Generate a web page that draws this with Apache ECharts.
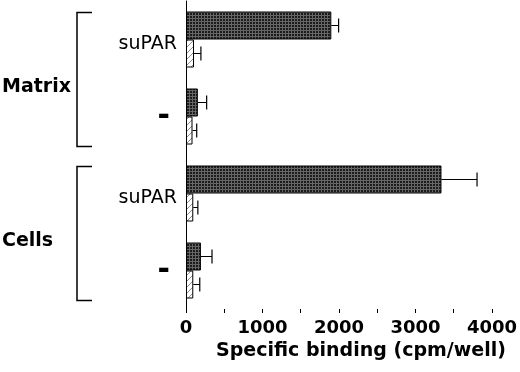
<!DOCTYPE html>
<html>
<head>
<meta charset="utf-8">
<script src="https://cdn.jsdelivr.net/npm/echarts@6/dist/echarts.min.js"></script>
<style>
    html, body { margin: 0; padding: 0; background: #fff; }
    #chart { width: 520px; height: 372px; }
</style>
</head>
<body>
<div id="chart"></div>
<script>
// categories, top to bottom
const categories = ['suPAR', '-', 'suPAR', '-']
const groups = [
    { name: 'Matrix', from: 0, to: 1 },
    { name: 'Cells', from: 2, to: 3 }
]
// dark (stippled) bars and hatched bars, cpm/well
const darkValues = [1900, 155, 3340, 195]
const darkErrors = [95, 115, 465, 145]
const hatchValues = [105, 85, 95, 95]
const hatchErrors = [90, 55, 60, 85]
const xTicks = [0, 1000, 2000, 3000, 4000]

const FONT = 'DejaVu Sans'
const BAR_W = 28

function makePattern (kind) {
    const c = document.createElement('canvas')
    if (kind === 'dark') {
        c.width = 3; c.height = 3
        const g = c.getContext('2d')
        g.fillStyle = '#1c1c1c'
        g.fillRect(0, 0, 3, 3)
        g.fillStyle = '#666'
        g.fillRect(0, 0, 3, 1)
        g.fillRect(0, 0, 1, 3)
    } else {
        c.width = 6; c.height = 6
        const g = c.getContext('2d')
        g.fillStyle = '#fff'
        g.fillRect(0, 0, 6, 6)
        g.strokeStyle = '#8a8a8a'
        g.lineWidth = 1
        g.beginPath()
        g.moveTo(-1, 7); g.lineTo(7, -1)
        g.moveTo(-4, 4); g.lineTo(4, -4)
        g.moveTo(2, 10); g.lineTo(10, 2)
        g.stroke()
    }
    return { image: c, repeat: 'repeat' }
}

// error bar: line from bar end + cap, drawn at the bar's own row
function errorRenderer (side) {
    return function (params, api) {
        const v = api.value(0)
        const cat = api.value(1)
        const e = api.value(2)
        const p0 = api.coord([v, cat])
        const p1 = api.coord([v + e, cat])
        const y = p0[1] + side * BAR_W / 2
        return {
            type: 'group',
            children: [
                { type: 'line', shape: { x1: p0[0], y1: y, x2: p1[0], y2: y },
                  style: { stroke: '#000', lineWidth: 1 } },
                { type: 'line', shape: { x1: p1[0], y1: y - 7, x2: p1[0], y2: y + 7 },
                  style: { stroke: '#000', lineWidth: 1.2 } }
            ]
        }
    }
}

const chart = echarts.init(document.getElementById('chart'))
chart.setOption({
    animation: false,
    backgroundColor: '#fff',
    textStyle: { fontFamily: FONT, color: '#000' },
    grid: { left: 186, right: 24, top: 1, bottom: 63 },
    xAxis: {
        type: 'value',
        min: 0,
        max: 4000,
        interval: 1000,
        name: 'Specific binding (cpm/well)',
        nameLocation: 'middle',
        nameGap: 23,
        nameTextStyle: {
            fontFamily: FONT, fontWeight: 'bold', fontSize: 19, color: '#000',
            verticalAlign: 'top', padding: [0, 0, 0, 44]
        },
        axisLine: { lineStyle: { color: '#000', width: 1 } },
        axisTick: { show: true, length: 4, lineStyle: { color: '#000' } },
        minorTick: { show: true, splitNumber: 2, length: 4, lineStyle: { color: '#000' } },
        splitLine: { show: false },
        axisLabel: {
            margin: 10,
            fontFamily: FONT, fontWeight: 'bold', fontSize: 18, color: '#000',
            formatter: v => xTicks.indexOf(v) >= 0 ? String(v) : ''
        }
    },
    yAxis: {
        type: 'category',
        inverse: true,
        data: categories,
        axisLine: { lineStyle: { color: '#000', width: 1 } },
        axisTick: { show: false },
        axisLabel: {
            margin: 9,
            formatter: v => v === '-' ? '{d|-}' : '{s|' + v + '}',
            rich: {
                s: { fontFamily: FONT, fontSize: 19, color: '#000', padding: [10, 0, 0, 0] },
                d: { fontFamily: FONT, fontWeight: 'bold', fontSize: 30, color: '#000', padding: [2, 7, 0, 0] }
            }
        }
    },
    series: [
        {
            name: 'dark',
            type: 'bar',
            barWidth: BAR_W,
            barGap: '0%',
            data: darkValues,
            itemStyle: { color: makePattern('dark'), borderColor: '#000', borderWidth: 1 }
        },
        {
            name: 'hatched',
            type: 'bar',
            barWidth: BAR_W,
            barGap: '0%',
            data: hatchValues,
            itemStyle: { color: makePattern('hatch'), borderColor: '#000', borderWidth: 1 }
        },
        {
            type: 'custom',
            renderItem: errorRenderer(-1),
            encode: { x: 0, y: 1 },
            data: darkValues.map((v, i) => [v, i, darkErrors[i]]),
            z: 3
        },
        {
            type: 'custom',
            renderItem: errorRenderer(1),
            encode: { x: 0, y: 1 },
            data: hatchValues.map((v, i) => [v, i, hatchErrors[i]]),
            z: 3
        }
    ]
})

// group brackets and labels, placed from the category scale
const graphics = []
groups.forEach(g => {
    const top = chart.convertToPixel({ yAxisIndex: 0 }, g.from) - 27
    const bottom = chart.convertToPixel({ yAxisIndex: 0 }, g.to) + 30
    graphics.push({
        type: 'polyline',
        shape: { points: [[92, top], [77, top], [77, bottom], [92, bottom]] },
        style: { stroke: '#000', lineWidth: 1.5, fill: null }
    })
    graphics.push({
        type: 'text',
        left: 2,
        top: (top + bottom) / 2 - 2,
        style: { text: g.name, fontFamily: FONT, fontWeight: 'bold', fontSize: 19, fill: '#000' }
    })
})
chart.setOption({ graphic: graphics })
</script>
</body>
</html>
